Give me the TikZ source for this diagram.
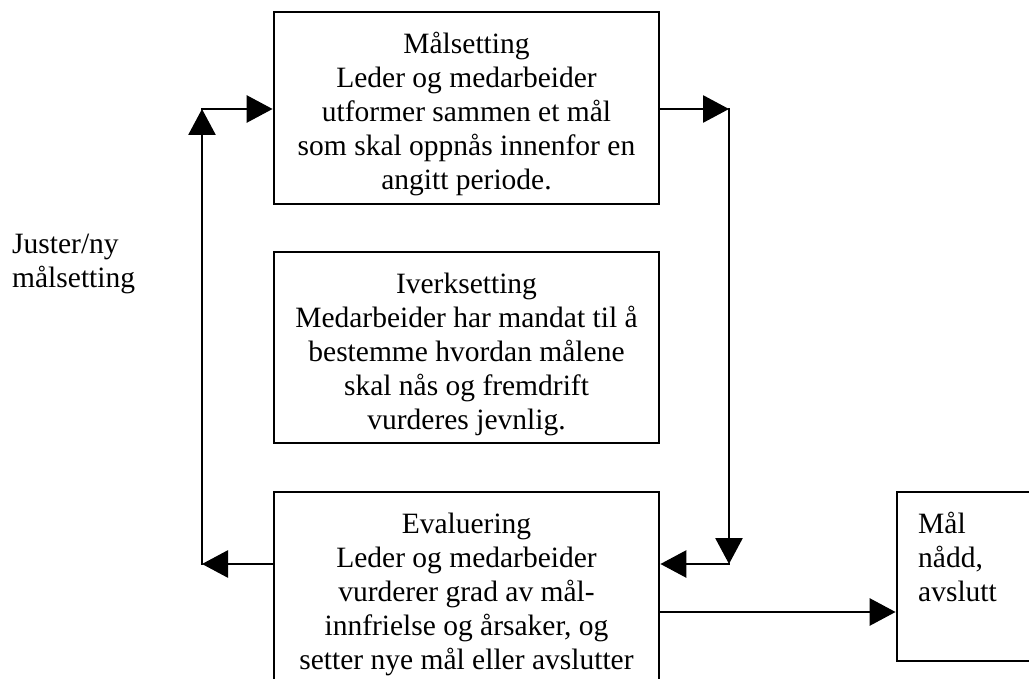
\documentclass[tikz,border=0pt]{standalone}
\usepackage{fontspec}
\setmainfont{Liberation Serif}
\usetikzlibrary{arrows.meta}
\begin{document}
\begin{tikzpicture}[x=1pt,y=-1pt,
  box/.style={draw, line width=2.8pt, inner sep=0pt},
  txt/.style={align=center, inner sep=0pt, font=\fontsize{29.5}{34}\selectfont},
  link/.style={line width=2.8pt, line cap=rect, -{Triangle[length=26pt,width=27pt]}}]
\useasboundingbox[fill=white] (0,0) rectangle (1029,679);

% the three phase boxes and the end box
\node[box, minimum width=385pt, minimum height=192pt] (goalset) at (466.5,108) {};
\node[box, minimum width=385pt, minimum height=191pt] (exec) at (466.5,347.5) {};
\node[box, minimum width=385pt, minimum height=218pt] (evalbox) at (466.5,601) {};
\node[box, minimum width=163pt, minimum height=169pt] (done) at (978.5,576.5) {};

% box texts (anchored on the baseline of the last line)
\node[txt, anchor=base] (goalsettxt) at (466.5,190)
  {Målsetting\\Leder og medarbeider\\utformer sammen et mål\\som skal oppnås innenfor en\\angitt periode.};
\node[txt, anchor=base] (exectxt) at (466.5,429)
  {Iverksetting\\Medarbeider har mandat til å\\bestemme hvordan målene\\skal nås og fremdrift\\vurderes jevnlig.};
\node[txt, anchor=base] (evaltxt) at (466.5,669)
  {Evaluering\\Leder og medarbeider\\vurderer grad av mål-\\innfrielse og årsaker, og\\setter nye mål eller avslutter};
\node[txt, align=left, anchor=base west] (donetxt) at (918,601) {Mål\\nådd,\\avslutt};
\node[txt, align=left, anchor=base west] (adjust) at (12,288) {Juster/ny\\målsetting};

% connector corners
\coordinate (lb) at (202,564);
\coordinate (lt) at (202,109);
\coordinate (rtop) at (729,109);
\coordinate (rbot) at (729,564);
\coordinate (outlvl) at (0,612);

% feedback loop on the left
\draw[link] (lb -| evalbox.west) -- (lb);
\draw[link] (lb) -- (lt);
\draw[link] (lt) -- (lt -| goalset.west);
% forward path on the right
\draw[link] (rtop -| goalset.east) -- (rtop);
\draw[link] (rtop) -- (rbot);
\draw[link] (rbot) -- (rbot -| evalbox.east);
% exit to the end box
\draw[link] (outlvl -| evalbox.east) -- (outlvl -| done.west);
\end{tikzpicture}
\end{document}
